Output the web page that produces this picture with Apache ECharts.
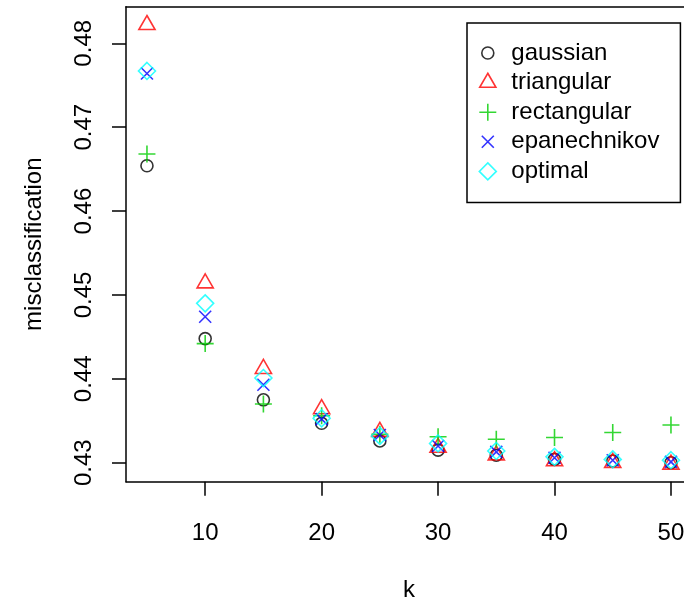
<!DOCTYPE html>
<html>
<head>
<meta charset="utf-8">
<script src="https://cdn.jsdelivr.net/npm/echarts@6/dist/echarts.min.js"></script>
<style>
html,body{margin:0;padding:0;background:#fff;}
#chart{width:684px;height:601px;}
</style>
</head>
<body>
<div id="chart"></div>
<script>
// ---- data ----
var kValues = [5, 10, 15, 20, 25, 30, 35, 40, 45, 50];
var gaussian     = [0.4654, 0.4448, 0.4375, 0.4347, 0.4326, 0.4315, 0.4309, 0.4304, 0.4302, 0.4300];
var triangular   = [0.4822, 0.4514, 0.4412, 0.4364, 0.4337, 0.4318, 0.4309, 0.4302, 0.4300, 0.4298];
var rectangular  = [0.4668, 0.4442, 0.4370, 0.4356, 0.4334, 0.4331, 0.4328, 0.4330, 0.4336, 0.4345];
var epanechnikov = [0.4764, 0.4474, 0.4393, 0.4352, 0.4333, 0.4320, 0.4313, 0.4306, 0.4303, 0.4301];
var optimal      = [0.4767, 0.4490, 0.4401, 0.4353, 0.4332, 0.4323, 0.4314, 0.4307, 0.4304, 0.4303];
var seriesNames  = ['gaussian', 'triangular', 'rectangular', 'epanechnikov', 'optimal'];
var xTicks = [10, 20, 30, 40, 50];
var yTicks = [0.43, 0.44, 0.45, 0.46, 0.47, 0.48];

// ---- styling ----
var FONT = 'Liberation Sans, Arial, Helvetica, sans-serif';
var colors = ['#000000', '#FF0000', '#00CD00', '#0000FF', '#00FFFF'];
var frame = 'M-10,-10 M10,10 ';
var symbols = [
  'path://' + frame + 'M-6,0 A6,6 0 1,1 6,0 A6,6 0 1,1 -6,0 Z',
  'path://' + frame + 'M0,-9.33 L8.08,4.67 L-8.08,4.67 Z',
  'path://' + frame + 'M-8.49,0 L8.49,0 M0,-8.49 L0,8.49',
  'path://' + frame + 'M-6,-6 L6,6 M-6,6 L6,-6',
  'path://' + frame + 'M0,-8.49 L8.49,0 L0,8.49 L-8.49,0 Z'
];
var allValues = [gaussian, triangular, rectangular, epanechnikov, optimal];

var series = seriesNames.map(function (name, i) {
  return {
    name: name,
    type: 'scatter',
    symbol: symbols[i],
    symbolSize: 20,
    symbolKeepAspect: true,
    itemStyle: { color: 'transparent', borderColor: colors[i], borderWidth: 1.6 },
    emphasis: { disabled: true },
    data: kValues.map(function (k, j) { return [k, allValues[i][j]]; })
  };
});

var XMIN = 3.2, XMAX = 51.12;
var lineStyle = { color: '#000', width: 1.5 };

var chart = echarts.init(document.getElementById('chart'), null, { renderer: 'canvas' });
chart.setOption({
  animation: false,
  backgroundColor: '#ffffff',
  grid: { left: 126, top: 6.7, right: 0, bottom: 119.3, show: false, containLabel: false, outerBoundsMode: 'none' },
  xAxis: [{
    type: 'value', min: XMIN, max: XMAX, position: 'bottom',
    axisLine: { show: true, onZero: false, lineStyle: lineStyle },
    splitLine: { show: false },
    axisTick: { show: true, length: 14, customValues: xTicks, lineStyle: lineStyle },
    axisLabel: { customValues: xTicks, fontSize: 24, color: '#000', fontFamily: FONT, margin: 40 },
    name: 'k', nameLocation: 'middle', nameGap: 97,
    nameTextStyle: { fontSize: 24, color: '#000', fontFamily: FONT, padding: [0, 0, 0, 8] }
  }, {
    type: 'value', min: XMIN, max: XMAX, position: 'top',
    axisLine: { show: true, onZero: false, lineStyle: lineStyle },
    splitLine: { show: false }, axisTick: { show: false }, axisLabel: { show: false }
  }],
  yAxis: {
    type: 'value', min: 0.42774, max: 0.48436,
    axisLine: { show: true, onZero: false, lineStyle: lineStyle },
    splitLine: { show: false },
    axisTick: { show: true, length: 14, customValues: yTicks, lineStyle: lineStyle },
    axisLabel: {
      customValues: yTicks, rotate: 90, fontSize: 24, color: '#000', fontFamily: FONT, margin: 30,
      formatter: function (v) { return v.toFixed(2); }
    },
    name: 'misclassification', nameLocation: 'middle', nameGap: 80,
    nameTextStyle: { fontSize: 24, color: '#000', fontFamily: FONT }
  },
  legend: {
    orient: 'vertical', left: 467, top: 23,
    padding: [18, 21, 19, 10],
    itemGap: 5.6, itemWidth: 37, itemHeight: 20,
    borderColor: '#000', borderWidth: 1.5, backgroundColor: '#fff',
    selectedMode: false,
    textStyle: { fontSize: 24, color: '#000', fontFamily: FONT },
    data: seriesNames.map(function (name, i) {
      return {
        name: name, icon: symbols[i],
        itemStyle: { color: 'transparent', borderColor: colors[i], borderWidth: 1.6 }
      };
    })
  },
  series: series
});
</script>
</body>
</html>
